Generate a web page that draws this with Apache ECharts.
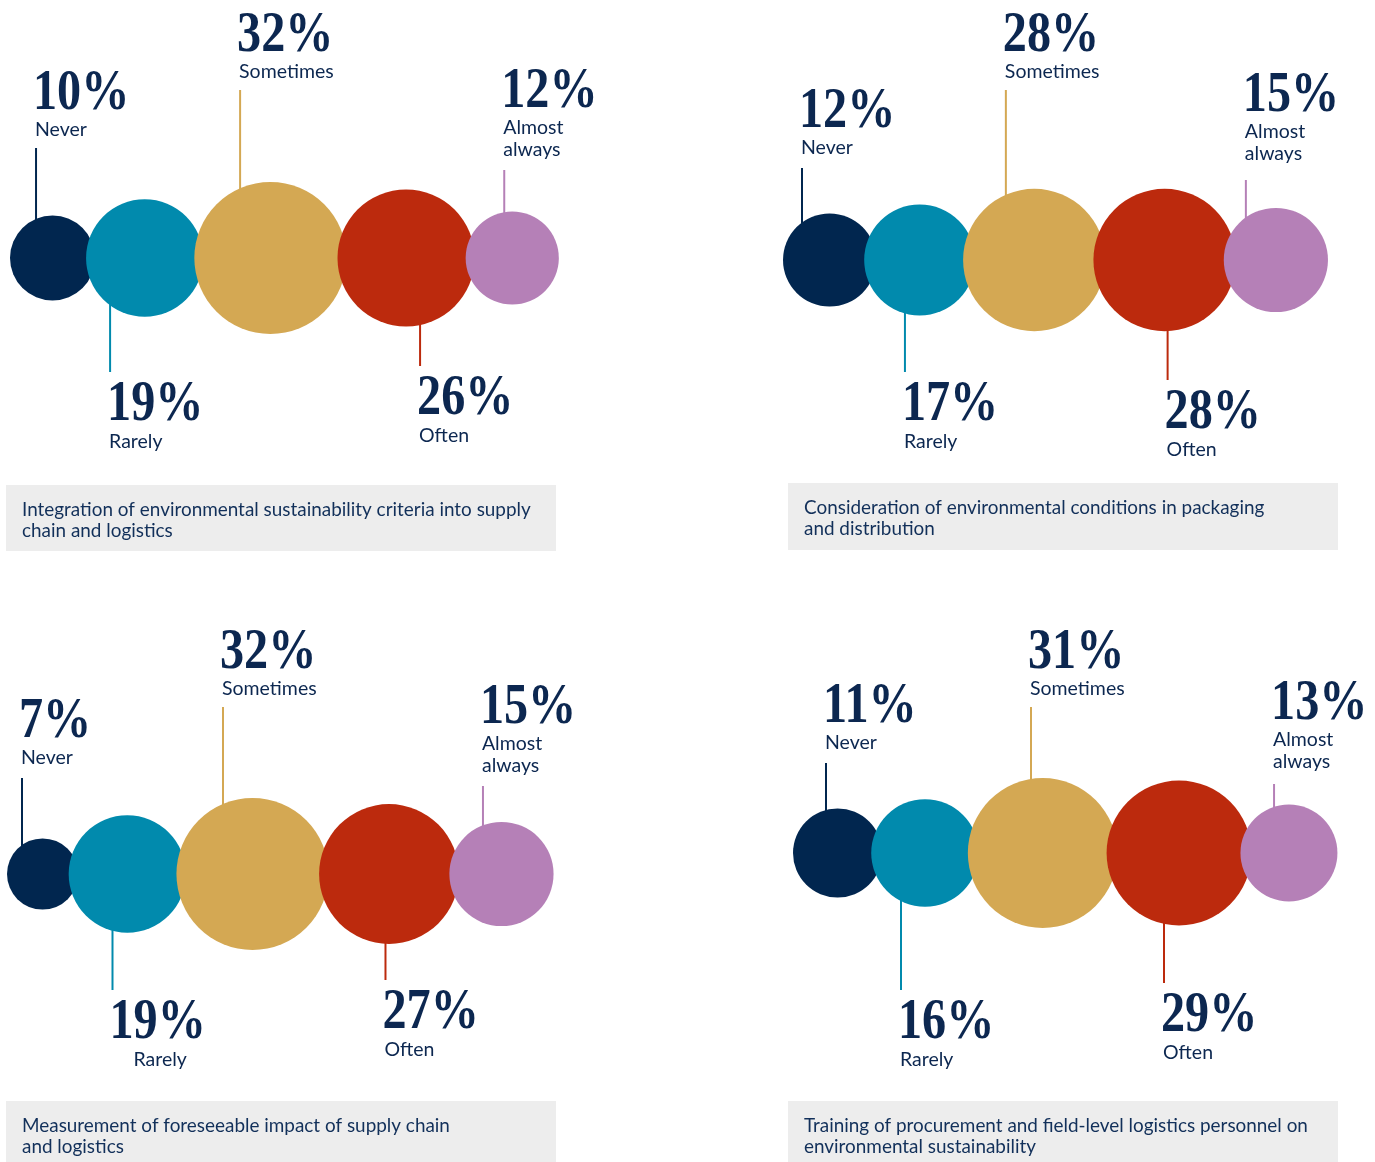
<!DOCTYPE html>
<html><head><meta charset="utf-8">
<script src="https://cdn.jsdelivr.net/npm/echarts@6/dist/echarts.min.js"></script>
<style>html,body{margin:0;padding:0;background:#fff}#c{width:1375px;height:1162px}</style>
</head><body><div id="c"></div>
<script>
// ---- data ----
const categories = ['Never', 'Rarely', 'Sometimes', 'Often', 'Almost\nalways'];
const titleIntegration = 'Integration of environmental sustainability criteria into supply\nchain and logistics';
const titlePackaging = 'Consideration of environmental conditions in packaging\nand distribution';
const titleMeasurement = 'Measurement of foreseeable impact of supply chain\nand logistics';
const titleTraining = 'Training of procurement and field-level logistics personnel on\nenvironmental sustainability';
const valuesIntegration = [10, 19, 32, 26, 12];
const valuesPackaging = [12, 17, 28, 28, 15];
const valuesMeasurement = [7, 19, 32, 27, 15];
const valuesTraining = [11, 16, 31, 29, 13];

// ---- styles / layout ----
const colors = ['#01264f', '#018aad', '#d4a853', '#bc2a0d', '#b580b7'];
const textColor = '#0c2750';
const K = 26.9; // circle diameter per sqrt(percent)
const panels = [
  { values: valuesIntegration, title: titleIntegration, x0: 10, cy: 258, overlap: 9,
    lineDx: [-16.5, -34.6, -30.3, 14, -8], lineLen: [110, 114, 168, 108, 88],
    labelDx: [0,0,0,0,0], labelDy: [2,0,2,0,0], box: [6, 485, 550, 66] },
  { values: valuesPackaging, title: titlePackaging, x0: 783, cy: 260, overlap: 12,
    lineDx: [-27.6, -14.7, -28.4, 3, -30], lineLen: [92, 112, 170, 120, 80],
    labelDx: [0,0,0,0,0], labelDy: [0,0,2,0,-6], box: [788, 483, 550, 67] },
  { values: valuesMeasurement, title: titleMeasurement, x0: 7, cy: 874, overlap: 9.5,
    lineDx: [-20.6, -14.8, -29.5, -3.5, -18.5], lineLen: [96, 116, 167, 106, 88],
    labelDx: [0,22,0,0,0], labelDy: [0,0,2,0,0], box: [6, 1101, 550, 70] },
  { values: valuesTraining, title: titleTraining, x0: 793, cy: 853, overlap: 11,
    lineDx: [-11.6, -24, -11.7, -15, -14.9], lineLen: [90, 137, 146, 130, 69],
    labelDx: [0,0,0,0,0], labelDy: [0,0,2,0,-2], box: [788, 1101, 550, 70] }
];

function points(p) {
  const r = p.values.map(v => K * Math.sqrt(v) / 2);
  const cx = [];
  r.forEach((ri, i) => cx.push(i === 0 ? p.x0 + ri : cx[i - 1] + r[i - 1] + ri - p.overlap));
  return p.values.map((v, i) => [cx[i], p.cy, v, i]);
}

function txt(x, y, text, font, scaleX) {
  return { type: 'text', x: x, y: y, scaleX: scaleX || 1,
    style: { text: text, font: font, fill: textColor, align: 'left', verticalAlign: 'middle',
             textAlign: 'left', textVerticalAlign: 'middle' } };
}

const pctFont = 'bold 56px "Liberation Serif", serif';
const labFont = '19.5px Lato, sans-serif';

const series = [];
const graphic = [];
panels.forEach((p, pi) => {
  const data = points(p);
  series.push({
    type: 'custom', coordinateSystem: 'cartesian2d', z: 1, silent: true,
    data: data,
    renderItem: (params, api) => {
      const i = api.value(3);
      const pt = api.coord([api.value(0), api.value(1)]);
      const up = i % 2 === 0;
      const lx = pt[0] + p.lineDx[i];
      const yE = up ? pt[1] - p.lineLen[i] : pt[1] + p.lineLen[i];
      const children = [{ type: 'line', shape: { x1: lx, y1: pt[1], x2: lx, y2: yE },
        style: { stroke: colors[i], lineWidth: 2 } }];
      const lines = categories[i].split('\n');
      const pct = api.value(2) + '%';
      const labX = lx - 1 + p.labelDx[i];
      const dy = p.labelDy[i];
      if (up) {
        const lastC = yE - 20 + dy;
        const firstC = lastC - 22 * (lines.length - 1);
        lines.forEach((l, k) => children.push(txt(labX, firstC + 22 * k, l, labFont)));
        children.push(txt(lx - 3, firstC - 35, pct, pctFont, 0.86));
      } else {
        children.push(txt(lx - 3, yE + 34 + dy, pct, pctFont, 0.86));
        lines.forEach((l, k) => children.push(txt(labX, yE + 70 + dy + 22 * k, l, labFont)));
      }
      return { type: 'group', children: children };
    }
  });
  series.push({
    type: 'scatter', z: 2, silent: true,
    data: data.map((d, i) => ({ value: d, itemStyle: { color: colors[i], opacity: 1 } })),
    symbol: 'circle',
    symbolSize: d => K * Math.sqrt(d[2]),
    emphasis: { disabled: true }
  });
  const b = p.box;
  graphic.push({ type: 'rect', shape: { x: b[0], y: b[1], width: b[2], height: b[3] }, style: { fill: '#ededed' }, z: 0 });
  graphic.push({ type: 'text', x: b[0] + 16, y: b[1] + 14, scaleX: 0.945,
    style: { text: p.title, font: '20px Lato, sans-serif', fill: '#12305a', lineHeight: 21,
             align: 'left', verticalAlign: 'top' }, z: 1 });
});

const chart = echarts.init(document.getElementById('c'), null, { renderer: 'canvas' });
chart.setOption({
  animation: false,
  backgroundColor: '#ffffff',
  grid: { left: 0, top: 0, width: 1375, height: 1162 },
  xAxis: { type: 'value', min: 0, max: 1375, show: false },
  yAxis: { type: 'value', min: 0, max: 1162, inverse: true, show: false },
  graphic: graphic,
  series: series
});
</script>
</body></html>
